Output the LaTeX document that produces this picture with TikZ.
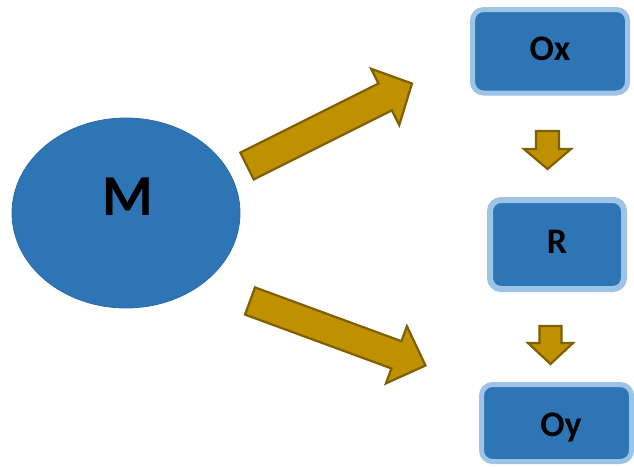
\documentclass[tikz,border=0pt]{standalone}
\usepackage{fontspec}
\setmainfont{Carlito}
\usetikzlibrary{calc,shapes.geometric}

\definecolor{nodeblue}{HTML}{2E75B6}
\definecolor{edgeblue}{HTML}{9DC3E6}
\definecolor{ellipseedge}{HTML}{2A6BA8}
\definecolor{goldfill}{HTML}{BF9000}
\definecolor{golddraw}{HTML}{7F6000}

% Block arrow from tail centre #1 to tip #2:
% shaft half width #3, head half width #4, head length #5
\newcommand{\blockarrow}[5]{%
  \coordinate (#2-base) at ($(#2)!#5!(#1)$);
  \draw[goldarrow]
    ($(#1)!#3!90:(#2)$) -- ($(#2-base)!#3!90:(#2)$) --
    ($(#2-base)!#4!90:(#2)$) -- (#2) --
    ($(#2-base)!#4!-90:(#2)$) -- ($(#2-base)!#3!-90:(#2)$) --
    ($(#1)!#3!-90:(#2)$) -- cycle;
}

\begin{document}
\begin{tikzpicture}[x=1pt,y=-1pt,
  goldarrow/.style={fill=goldfill,draw=golddraw,line width=2.2pt,line join=miter},
  stagebox/.style={rectangle,rounded corners=11pt,fill=nodeblue,draw=edgeblue,
    line width=5pt,inner sep=0pt},
  bigoval/.style={ellipse,fill=nodeblue,draw=ellipseedge,line width=0.8pt,
    minimum width=228pt,minimum height=190pt,inner sep=0pt},
  boxtext/.style={font=\bfseries\fontsize{36}{40}\selectfont,anchor=base,inner sep=0pt},
  ovaltext/.style={font=\bfseries\fontsize{58}{64}\selectfont,anchor=base,inner sep=0pt}]

  \useasboundingbox (0,0) rectangle (634,466);

  % source oval
  \node[bigoval] (m) at (126,213) {};
  \node[ovaltext] (m-label) at (127.5,215) {M};

  % stage boxes
  \node[stagebox,minimum width=155pt,minimum height=83.5pt] (ox) at (550,51.25) {};
  \node[stagebox,line width=6pt,minimum width=134pt,minimum height=89pt] (r) at (557,244.5) {};
  \node[stagebox,minimum width=150pt,minimum height=77pt] (oy) at (556.5,423) {};

  \node[boxtext] (ox-label) at (550,60) {Ox};
  \node[boxtext] (r-label) at (557,253) {R};
  \node[boxtext] (oy-label) at (561,436) {Oy};

  % arrow end points
  \coordinate (m-up-tail) at (247,166);
  \coordinate (m-up-tip) at (412,83.5);
  \coordinate (m-down-tail) at (250,301);
  \coordinate (m-down-tip) at (425.5,365.5);
  \coordinate (ox-r-tail) at (547.5,131);
  \coordinate (ox-r-tip) at (547.5,169);
  \coordinate (r-oy-tail) at (550.5,326);
  \coordinate (r-oy-tip) at (550.5,364);

  % big arrows from the oval
  \blockarrow{m-up-tail}{m-up-tip}{15pt}{31.5pt}{30pt}
  \blockarrow{m-down-tail}{m-down-tip}{14.5pt}{30.5pt}{31pt}

  % small arrows between the boxes
  \blockarrow{ox-r-tail}{ox-r-tip}{11.5pt}{23.5pt}{20pt}
  \blockarrow{r-oy-tail}{r-oy-tip}{11pt}{22.5pt}{21pt}
\end{tikzpicture}
\end{document}
